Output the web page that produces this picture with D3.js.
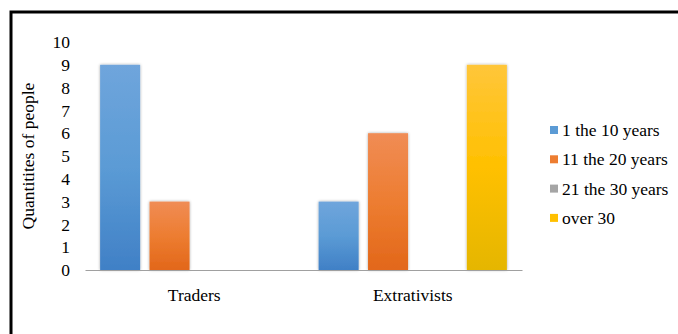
<!DOCTYPE html>
<html>
<head>
<meta charset="utf-8">
<script src="https://cdn.jsdelivr.net/npm/d3@7"></script>
<style>
  html, body { margin: 0; padding: 0; background: #fff; }
  svg { display: block; }
</style>
</head>
<body>
<svg id="chart" width="678" height="334"></svg>
<script>
// Years of activity per group
const categories = ["Traders", "Extrativists"];
const seriesNames = ["1 the 10 years", "11 the 20 years", "21 the 30 years", "over 30"];
const years1to10 = [9, 3];
const years11to20 = [3, 6];
const years21to30 = [0, 0];
const yearsOver30 = [0, 9];
const yTicks = [0, 1, 2, 3, 4, 5, 6, 7, 8, 9, 10];

const seriesValues = [years1to10, years11to20, years21to30, yearsOver30];
const baseColors = ["#5b9bd5", "#ed7d31", "#a5a5a5", "#ffc000"];
const topColors = ["#6fa5dc", "#f08c55", "#b4b4b4", "#ffc63a"];
const bottomColors = ["#4080c6", "#e2671a", "#999999", "#e5b600"];

const FONT = "Liberation Serif";
const FSIZE = 17.5;

const svg = d3.select("#chart");

// outer frame
svg.append("rect")
  .attr("x", 11).attr("y", 12)
  .attr("width", 700).attr("height", 360)
  .attr("fill", "none").attr("stroke", "#000").attr("stroke-width", 3);

const defs = svg.append("defs");
seriesNames.forEach((s, i) => {
  const g = defs.append("linearGradient")
    .attr("id", "grad" + i)
    .attr("x1", 0).attr("y1", 0).attr("x2", 0).attr("y2", 1);
  g.append("stop").attr("offset", "0%").attr("stop-color", topColors[i]);
  g.append("stop").attr("offset", "50%").attr("stop-color", baseColors[i]);
  g.append("stop").attr("offset", "100%").attr("stop-color", bottomColors[i]);
});
const shadow = defs.append("filter").attr("id", "barShadow")
  .attr("x", "-20%").attr("y", "-5%").attr("width", "140%").attr("height", "110%");
shadow.append("feGaussianBlur").attr("in", "SourceAlpha").attr("stdDeviation", 1.5).attr("result", "b");
shadow.append("feComponentTransfer").attr("in", "b").attr("result", "s")
  .append("feFuncA").attr("type", "linear").attr("slope", 0.35);
const merge = shadow.append("feMerge");
merge.append("feMergeNode").attr("in", "s");
merge.append("feMergeNode").attr("in", "SourceGraphic");

const plot = { left: 85, right: 522, top: 42, bottom: 270 };

const x0 = d3.scaleBand().domain(categories).range([plot.left, plot.right]).padding(0);
const x1 = d3.scaleBand().domain(d3.range(seriesNames.length))
  .range([0, x0.bandwidth()]).paddingInner(0.19).paddingOuter(0.306);
const y = d3.scaleLinear().domain([0, 10]).range([plot.bottom, plot.top]);

// y tick labels
const yAxis = d3.axisLeft(y).tickValues(yTicks).tickSize(0).tickPadding(0).tickFormat(d3.format("d"));
const ya = svg.append("g").attr("transform", "translate(70,0)").call(yAxis)
  .attr("font-family", FONT).attr("font-size", FSIZE);
ya.select(".domain").remove();
ya.selectAll("text").attr("fill", "#000");

// y axis title
svg.append("text")
  .attr("transform", "translate(30,156) rotate(-90)")
  .attr("text-anchor", "middle").attr("dominant-baseline", "middle")
  .attr("font-family", FONT).attr("font-size", FSIZE)
  .text("Quantitites of people");

// bars
categories.forEach((c, ci) => {
  const g = svg.append("g").attr("transform", `translate(${x0(c)},0)`);
  g.selectAll("rect")
    .data(seriesValues.map((vals, si) => ({ si, v: vals[ci] })).filter(d => d.v > 0))
    .join("rect")
    .attr("x", d => x1(d.si))
    .attr("width", x1.bandwidth())
    .attr("y", d => y(d.v))
    .attr("height", d => y(0) - y(d.v))
    .attr("fill", d => `url(#grad${d.si})`)
    .attr("filter", "url(#barShadow)");
});

// baseline and category labels
const xAxis = d3.axisBottom(x0).tickSize(0).tickPadding(19);
const xa = svg.append("g").attr("transform", `translate(0,${plot.bottom})`).call(xAxis)
  .attr("font-family", FONT).attr("font-size", FSIZE);
xa.select(".domain").attr("stroke", "#a0a0a0").attr("stroke-width", 1.2);
xa.selectAll("text").attr("fill", "#000");

// legend
const legend = svg.append("g").attr("transform", "translate(550,130)");
const items = legend.selectAll("g").data(seriesNames).join("g")
  .attr("transform", (d, i) => `translate(0,${i * 29.3})`);
items.append("rect")
  .attr("x", 0).attr("y", -4).attr("width", 8).attr("height", 8)
  .attr("fill", (d, i) => baseColors[i]);
items.append("text")
  .attr("x", 12).attr("y", 0).attr("dominant-baseline", "central")
  .attr("font-family", FONT).attr("font-size", FSIZE)
  .text(d => d);
</script>
</body>
</html>
